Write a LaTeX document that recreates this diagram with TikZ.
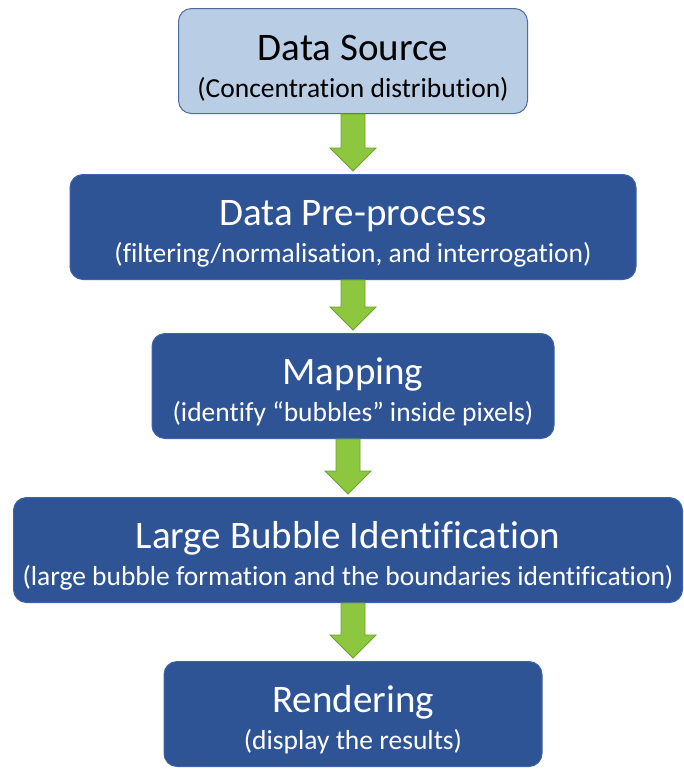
\documentclass[tikz,border=0pt]{standalone}
\usepackage{fontspec}
\setmainfont{Carlito}[Ligatures=NoCommon]
\usetikzlibrary{positioning,calc}

\definecolor{boxblue}{RGB}{46,84,150}
\definecolor{boxedge}{RGB}{62,100,165}
\definecolor{srcfill}{RGB}{185,205,229}
\definecolor{srcedge}{RGB}{78,108,158}
\definecolor{arrowgreen}{RGB}{141,198,63}
\definecolor{arrowedge}{RGB}{108,162,46}

\newcommand{\steptitle}[1]{{\fontsize{39}{40}\selectfont\rule{0pt}{39pt}#1}}
% block arrow from the bottom of #1 to the top of #2
\newcommand{\flowarrow}[2]{%
  \path (#1.south -| #2.north) coordinate (fa-top) (#2.north) coordinate (fa-bot);
  \filldraw[flow] ([xshift=-12pt]fa-top) -- ([xshift=-12pt, yshift=26pt]fa-bot)
    -- ([xshift=-23pt, yshift=26pt]fa-bot) -- ([yshift=3pt]fa-bot)
    -- ([xshift=23pt, yshift=26pt]fa-bot) -- ([xshift=12pt, yshift=26pt]fa-bot)
    -- ([xshift=12pt]fa-top) -- cycle;}

\begin{document}
\begin{tikzpicture}[
    x=1pt, y=1pt,
    font=\fontsize{27.5}{36}\selectfont,
    stage/.style={draw=boxedge, fill=boxblue, text=white, rounded corners=13pt, align=center, minimum height=105pt, inner sep=0pt, line width=1pt},
    source/.style={stage, draw=srcedge, fill=srcfill, text=black},
    flow/.style={draw=arrowedge, fill=arrowgreen, line width=0.8pt, line join=miter}
]
\useasboundingbox (0,0) rectangle (684,-769);

\node[source, minimum width=349pt, anchor=north] (src) at (353,-8) {\steptitle{Data Source}\\[1pt](Concentration distribution)};
\node[stage, minimum width=566pt, below=60pt of src] (pre) {\steptitle{Data Pre-process}\\[1pt](filtering/normalisation, and interrogation)};
\node[stage, minimum width=402pt, below=53pt of pre] (map) {\steptitle{Mapping}\\[1pt](identify “bubbles” inside pixels)};
\node[stage, minimum width=669pt, below=58pt of map, xshift=-5pt] (bubble) {\steptitle{Large Bubble Identification}\\[1pt](large bubble formation and the boundaries identification)};
\node[stage, minimum width=378pt, below=58pt of bubble, xshift=5pt] (render) {\steptitle{Rendering}\\[1pt](display the results)};

\foreach \a/\b in {src/pre, pre/map, map/bubble, bubble/render}
  \flowarrow{\a}{\b};
\end{tikzpicture}
\end{document}
